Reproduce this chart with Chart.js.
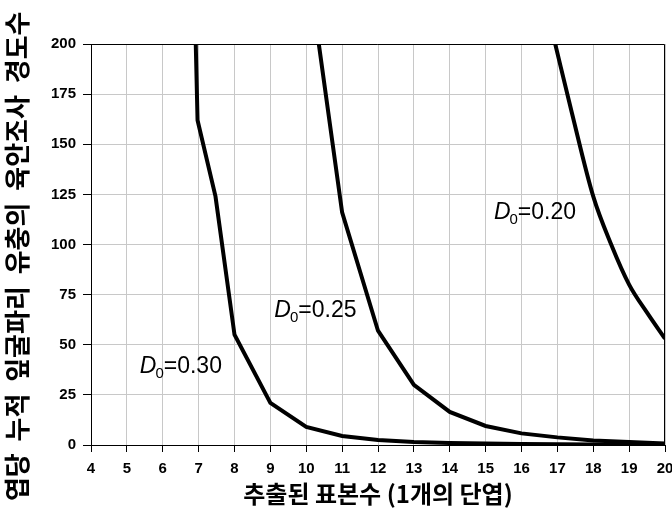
<!DOCTYPE html>
<html>
<head>
<meta charset="utf-8">
<script src="https://cdn.jsdelivr.net/npm/chart.js@4.4.0/dist/chart.umd.min.js"></script>
<style>
  html, body { margin: 0; padding: 0; background: #fff; }
  #wrap { width: 672px; height: 512px; position: relative; }
</style>
</head>
<body>
<div id="wrap"><canvas id="grafico"></canvas></div>
<script>
// === Datos ===
const xD030 = [6.92, 6.97, 7.47, 8, 9, 10, 11, 12, 13, 14, 15, 16, 17, 18, 19, 20];
const yD030 = [200, 162, 124, 55, 21, 9, 4.5, 2.5, 1.5, 1, 0.7, 0.5, 0.35, 0.25, 0.15, 0.1];

const xD025 = [10.35, 11, 12, 13, 14, 15, 16, 17, 18, 19, 20];
const yD025 = [200, 116, 57, 30, 16.5, 9.5, 5.8, 3.8, 2.2, 1.5, 0.8];

const xD020 = [16.94, 17.4, 18, 18.5, 19, 19.5, 20];
const yD020 = [200, 166, 124, 100, 80, 66, 53];

const etiquetas = ["0.30", "0.25", "0.20"];
const etiquetaX = [5.36, 9.11, 15.23];
const etiquetaY = [35.8, 64, 112.5];

const tituloX = "추출된 표본수 (1개의 단엽)";
const tituloY = "엽당  누적  잎굴파리  유충의  육안조사  경도수    ";

const puntos = (xs, ys) => xs.map((x, i) => ({ x, y: ys[i] }));

const serie = (datos, suave) => ({
  data: datos,
  borderColor: "#000",
  borderWidth: 4,
  pointRadius: 0,
  fill: false,
  tension: 0,
  cubicInterpolationMode: suave ? "monotone" : "default"
});

const fuenteTicks = { family: "'Liberation Sans', Arial, sans-serif", size: 15, weight: "bold" };

// === Marco y etiquetas D0 ===
const marco = {
  id: "marco",
  afterDatasetsDraw(chart) {
    const { ctx, chartArea: a, scales } = chart;
    ctx.save();
    ctx.strokeStyle = "#000";
    ctx.lineWidth = 1;
    ctx.beginPath();
    ctx.moveTo(a.left, a.top + 0.5);
    ctx.lineTo(a.right - 0.5, a.top + 0.5);
    ctx.lineTo(a.right - 0.5, a.bottom);
    ctx.stroke();

    ctx.fillStyle = "#000";
    ctx.textBaseline = "alphabetic";
    etiquetas.forEach((t, i) => {
      let x = scales.x.getPixelForValue(etiquetaX[i]);
      const y = scales.y.getPixelForValue(etiquetaY[i]);
      ctx.font = "italic 23px 'Liberation Sans', Arial, sans-serif";
      ctx.fillText("D", x, y);
      x += ctx.measureText("D").width - 1;
      ctx.font = "15px 'Liberation Sans', Arial, sans-serif";
      ctx.fillText("0", x, y + 5);
      x += ctx.measureText("0").width;
      ctx.font = "23px 'Liberation Sans', Arial, sans-serif";
      ctx.fillText("=" + t, x, y);
    });
    ctx.restore();
  }
};

const ctx = document.getElementById("grafico").getContext("2d");

new Chart(ctx, {
  type: "line",
  data: {
    datasets: [
      serie(puntos(xD030, yD030), false),
      serie(puntos(xD025, yD025), false),
      serie(puntos(xD020, yD020), true)
    ]
  },
  options: {
    responsive: true,
    maintainAspectRatio: false,
    animation: false,
    layout: { padding: { top: 44, right: 7, left: 0, bottom: 0 } },
    plugins: {
      legend: { display: false },
      tooltip: { enabled: false }
    },
    scales: {
      x: {
        type: "linear",
        min: 4,
        max: 20,
        ticks: {
          stepSize: 1,
          color: "#000",
          padding: 8,
          maxRotation: 0,
          font: fuenteTicks
        },
        grid: { color: "#c8c8c8", tickColor: "#000", tickLength: 7 },
        border: { color: "#000", width: 1 },
        title: {
          display: true,
          text: tituloX,
          color: "#000",
          padding: { top: 0, bottom: 4 },
          font: { family: "'Noto Sans CJK KR', sans-serif", size: 24, weight: "bold" }
        },
        afterFit(scale) {
          scale.height = 67;
          scale.paddingLeft = 0;
          scale.paddingRight = 0;
        }
      },
      y: {
        min: 0,
        max: 200,
        ticks: {
          stepSize: 25,
          color: "#000",
          padding: 7,
          font: fuenteTicks
        },
        grid: { color: "#c8c8c8", tickColor: "#000", tickLength: 8 },
        border: { color: "#000", width: 1 },
        title: {
          display: true,
          text: tituloY,
          color: "#000",
          padding: { top: 2, bottom: 0 },
          font: { family: "'Noto Sans CJK KR', sans-serif", size: 26, weight: "bold" }
        },
        afterFit(scale) {
          scale.width = 91;
          scale.paddingTop = 0;
          scale.paddingBottom = 0;
        }
      }
    }
  },
  plugins: [marco]
});
</script>
</body>
</html>
